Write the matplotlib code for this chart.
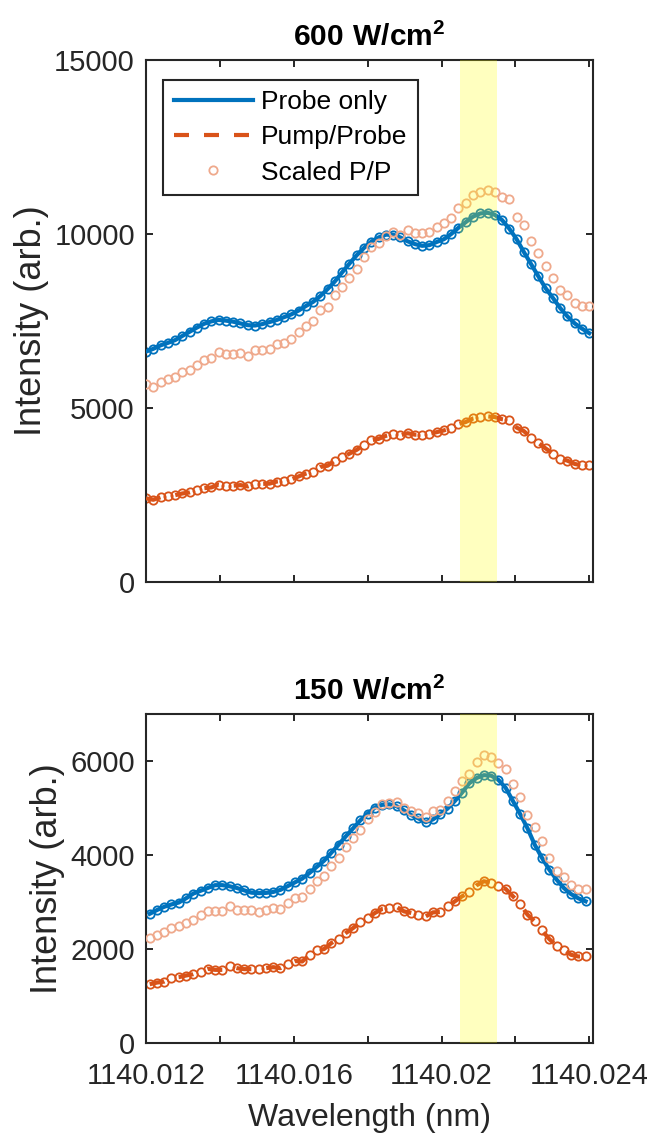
import numpy as np
import matplotlib
matplotlib.use("Agg")
import matplotlib.pyplot as plt

plt.rcParams['font.family'] = ['Liberation Sans', 'DejaVu Sans']
plt.rcParams['mathtext.fontset'] = 'custom'
plt.rcParams['mathtext.rm'] = 'Liberation Sans'
plt.rcParams['mathtext.bf'] = 'Liberation Sans:bold'

# ---- data ----
# 600 W/cm^2 panel
x_600 = np.linspace(1140.012, 1140.024, 62)
probe_600 = [6620, 6700, 6800, 6870, 6950, 7070, 7190, 7310, 7420, 7490,
             7530, 7510, 7480, 7430, 7380, 7370, 7410, 7470, 7530, 7610,
             7690, 7800, 7930, 8050, 8220, 8420, 8640, 8900, 9150, 9390,
             9600, 9780, 9900, 9980, 9980, 9900, 9790, 9710, 9660, 9680,
             9770, 9850, 10000, 10180, 10340, 10500, 10590, 10610, 10550, 10400,
             10150, 9850, 9480, 9130, 8780, 8440, 8160, 7870, 7630, 7430,
             7280, 7150]
pump_600 = [2404, 2362, 2434, 2459, 2493, 2543, 2573, 2636, 2695, 2717,
            2797, 2767, 2767, 2784, 2746, 2818, 2818, 2826, 2886, 2907,
            2945, 3033, 3114, 3173, 3304, 3342, 3485, 3587, 3688, 3798,
            3942, 4073, 4111, 4199, 4246, 4212, 4275, 4233, 4233, 4254,
            4305, 4356, 4423, 4537, 4597, 4698, 4740, 4757, 4740, 4677,
            4647, 4436, 4335, 4144, 3997, 3836, 3688, 3545, 3485, 3392,
            3350, 3350]
scaled_600 = [5690, 5590, 5760, 5820, 5900, 6020, 6090, 6240, 6380, 6430,
              6620, 6550, 6550, 6590, 6500, 6670, 6670, 6690, 6830, 6880,
              6970, 7180, 7370, 7510, 7820, 7910, 8250, 8490, 8730, 8990,
              9330, 9640, 9730, 9940, 10050, 9970, 10120, 10020, 10020, 10070,
              10190, 10310, 10470, 10740, 10880, 11120, 11220, 11260, 11220, 11070,
              11000, 10500, 10260, 9810, 9460, 9080, 8730, 8390, 8250, 8030,
              7930, 7930]

# 150 W/cm^2 panel
x_150 = np.linspace(1140.0121, 1140.0239, 61)
probe_150 = [2750, 2830, 2900, 2950, 2990, 3080, 3180, 3240, 3300, 3360,
             3360, 3336, 3300, 3250, 3200, 3190, 3195, 3215, 3260, 3340,
             3420, 3500, 3620, 3750, 3880, 4050, 4220, 4400, 4570, 4740,
             4880, 5010, 5070, 5080, 5040, 4950, 4850, 4780, 4700, 4760,
             4870, 4990, 5150, 5330, 5530, 5640, 5700, 5690, 5600, 5430,
             5150, 4870, 4570, 4220, 3940, 3690, 3480, 3300, 3170, 3080,
             3016]
pump_150 = [1252, 1287, 1308, 1380, 1402, 1437, 1466, 1522, 1579, 1558,
            1558, 1629, 1594, 1573, 1573, 1573, 1594, 1615, 1594, 1679,
            1745, 1736, 1878, 1970, 2000, 2128, 2213, 2341, 2448, 2568,
            2661, 2768, 2853, 2874, 2896, 2802, 2768, 2732, 2696, 2781,
            2789, 2909, 3015, 3123, 3208, 3357, 3443, 3408, 3336, 3280,
            3123, 2960, 2732, 2589, 2397, 2213, 2070, 1985, 1878, 1842,
            1842]
scaled_150 = [2234, 2305, 2354, 2448, 2482, 2554, 2625, 2732, 2817, 2817,
              2817, 2909, 2838, 2838, 2824, 2789, 2838, 2874, 2853, 2981,
              3095, 3109, 3280, 3457, 3564, 3777, 3941, 4168, 4368, 4531,
              4759, 4915, 5079, 5115, 5137, 5009, 4937, 4887, 4817, 4937,
              4951, 5150, 5363, 5577, 5719, 5990, 6125, 6097, 5954, 5841,
              5521, 5243, 4845, 4603, 4296, 3941, 3656, 3536, 3357, 3280,
              3287]

band = (1140.0205, 1140.0215)
x_ticks = [1140.012, 1140.014, 1140.016, 1140.018, 1140.020, 1140.022, 1140.024]
x_ticklabels = ['1140.012', '', '1140.016', '', '1140.02', '', '1140.024']

blue = '#0072BD'
orange = '#D95319'
salmon = '#EFA98C'
axcol = '#262626'


def draw_panel(ax, x, probe, pump, scaled, title, ylim, yticks, legend=False):
    ax.plot(x, probe, 'o', ms=6, mew=1.3, mfc='none', mec=blue, zorder=2)
    ax.plot(x, pump, 'o', ms=6, mew=1.3, mfc='none', mec=orange, zorder=2)
    l1, = ax.plot(x, probe, '-', color=blue, lw=3.0, zorder=3, label='Probe only')
    l2, = ax.plot(x, pump, color=orange, lw=3.0, ls=(0, (3.6, 3.6)), zorder=3,
                  label='Pump/Probe')
    l3, = ax.plot(x, scaled, 'o', ms=6, mew=1.3, mfc='none', mec=salmon,
                  zorder=4, label='Scaled P/P')
    ax.axvspan(band[0], band[1], color='yellow', alpha=0.25, lw=0, zorder=5)

    ax.set_xlim(1140.012, 1140.0241)
    ax.set_ylim(*ylim)
    ax.set_yticks(yticks)
    ax.set_xticks(x_ticks)
    ax.set_title(title, fontsize=21.5, pad=10, color='black')
    ax.set_ylabel('Intensity (arb.)', fontsize=26, color=axcol, labelpad=4)
    ax.tick_params(direction='in', length=5, width=1.4, top=True, right=True,
                   labelsize=21, colors=axcol, pad=8)
    ax.tick_params(axis='x', pad=14)
    for s in ax.spines.values():
        s.set_linewidth(1.5)
        s.set_color(axcol)

    if legend:
        leg = ax.legend(handles=[l1, l2, l3], loc='upper left',
                        bbox_to_anchor=(0.038, 0.962), borderaxespad=0,
                        fontsize=19, handlelength=3.0, handletextpad=0.3,
                        borderpad=0.4, labelspacing=0.42, fancybox=False,
                        framealpha=1, edgecolor=axcol)
        leg.get_frame().set_linewidth(1.5)


fig = plt.figure(figsize=(6.63, 11.34), dpi=100)
ax1 = fig.add_axes([0.2202, 0.4868, 0.6742, 0.4603])
ax2 = fig.add_axes([0.2202, 0.0802, 0.6742, 0.2901])

draw_panel(ax1, x_600, probe_600, pump_600, scaled_600,
           r'$\mathbf{600\ W/cm^2}$', (0, 15000), [0, 5000, 10000, 15000], legend=True)
ax1.set_xticklabels([])

draw_panel(ax2, x_150, probe_150, pump_150, scaled_150,
           r'$\mathbf{150\ W/cm^2}$', (0, 7000), [0, 2000, 4000, 6000])
ax2.set_xticklabels(x_ticklabels)
ax2.set_xlabel('Wavelength (nm)', fontsize=23, color=axcol, labelpad=9)

fig.savefig('out.png', dpi=100)
